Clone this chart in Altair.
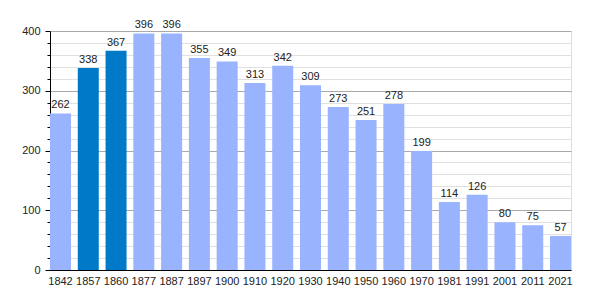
import altair as alt
import pandas as pd

years = ["1842", "1857", "1860", "1877", "1887", "1897", "1900", "1910", "1920",
         "1930", "1940", "1950", "1960", "1970", "1981", "1991", "2001", "2011", "2021"]
population = [262, 338, 367, 396, 396, 355, 349, 313, 342, 309, 273, 251, 278,
              199, 114, 126, 80, 75, 57]
highlight = ["no", "yes", "yes", "no", "no", "no", "no", "no", "no", "no", "no",
             "no", "no", "no", "no", "no", "no", "no", "no"]

df = pd.DataFrame({"year": years, "pop": population, "hl": highlight})

FONT = "Liberation Sans"
TXT = "#222222"

x = alt.X("year:N", sort=years, title=None,
          scale=alt.Scale(paddingInner=0.244, paddingOuter=0),
          axis=alt.Axis(labelAngle=0, ticks=False, labelPadding=5, domainColor="#000000",
                        labelFont=FONT, labelFontSize=11, labelColor=TXT, labelBaseline="top"))

y = alt.Y("pop:Q", title=None,
          scale=alt.Scale(domain=[0, 400], nice=False),
          axis=alt.Axis(values=list(range(0, 401, 20)),
                        labelExpr="datum.value % 100 === 0 ? datum.label : ''",
                        labelOverlap=False,
                        grid=True,
                        gridColor=alt.condition("datum.value % 100 === 0", alt.value("#aaaaaa"), alt.value("#e0e0e0")),
                        tickSize=alt.condition("datum.value % 100 === 0", alt.value(5), alt.value(3)),
                        tickColor="#000000", domainColor="#000000",
                        labelPadding=5, labelFont=FONT, labelFontSize=11, labelColor=TXT))

bars = alt.Chart(df).mark_bar().encode(
    x=x, y=y,
    color=alt.Color("hl:N", scale=alt.Scale(domain=["no", "yes"], range=["#99b3ff", "#0079c8"]), legend=None),
)

labels = alt.Chart(df).mark_text(baseline="alphabetic", dy=-5, font=FONT, fontSize=11, color=TXT).encode(
    x=x,
    y=y,
    text="pop:Q",
)

chart = alt.layer(bars, labels).properties(
    width=521, height=239,
    autosize=alt.AutoSizeParams(type="none"),
    padding={"left": 50, "top": 31, "right": 29, "bottom": 30},
).configure_view(stroke=None).configure(background="white")

chart.save("out.html", embed_options={"renderer": "svg", "actions": False})
